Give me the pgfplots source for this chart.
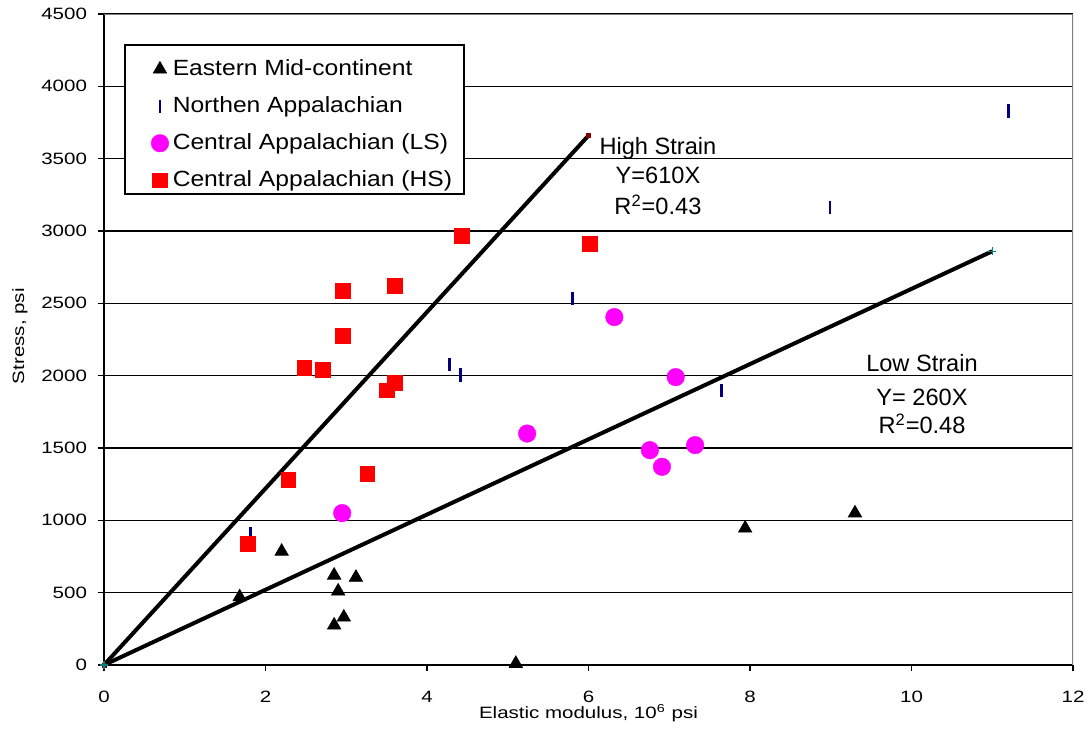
\documentclass[border=0pt]{standalone}
\usepackage{pgfplots}
\pgfplotsset{compat=1.18}
\usepackage{fontspec}
\setmainfont{Liberation Sans}
\definecolor{navyA}{RGB}{0,0,128}
\definecolor{magA}{RGB}{255,0,255}
\definecolor{redA}{RGB}{255,0,0}
\definecolor{darkredA}{RGB}{128,0,0}
\definecolor{tealA}{RGB}{0,128,128}
\definecolor{borderA}{RGB}{128,128,128}
% the source renders its axis text wider than Arial
\newcommand{\wide}[1]{\scalebox{1.25}[1]{#1}}
\newcommand{\legtext}[1]{\scalebox{1.12}[1]{#1}}

\begin{document}
\begin{tikzpicture}
\useasboundingbox (-52pt,-37.5pt) rectangle (492pt,332.5pt);
\begin{axis}[
  scale only axis,
  width=484.5pt, height=325.5pt,
  xmin=0, xmax=12, ymin=0, ymax=4500,
  xtick={0,2,...,12}, ytick={0,500,...,4500},
  axis x line*=bottom, axis y line*=left,
  axis line style={-, black, line width=1pt},
  tick align=outside, major tick length=3pt,
  tick style={black, line width=0.8pt},
  xtick pos=bottom, ytick pos=left,
  ymajorgrids=true,
  grid style={black, line width=0.8pt},
  scaled y ticks=false,
  /pgf/number format/1000 sep={},
  /pgf/number format/assume math mode=true,
  tick label style={font=\fontsize{8.2}{10}\selectfont},
  xticklabel={\wide{\pgfmathprintnumber{\tick}}},
  yticklabel={\wide{\pgfmathprintnumber{\tick}}},
  xticklabel style={yshift=-6.5pt},
  yticklabel style={xshift=-2pt},
  xlabel={\wide{Elastic modulus, 10\textsuperscript{6} psi}},
  ylabel={\wide{Stress, psi}},
  label style={font=\fontsize{8.2}{10}\selectfont},
  xlabel style={at={(axis description cs:0.5,0)}, anchor=center, yshift=-24pt},
  ylabel style={at={(axis description cs:-0.0867,0.505)}, anchor=center},
  legend cell align=left,
  legend image code/.code={\path (-13pt,-2.6pt) (0pt,-2.6pt); \draw[#1] plot coordinates {(0cm,-2.6pt)};},
  legend style={at={(0.0206,0.954)}, anchor=north west, draw=black,
    line width=1pt, fill=white, font=\fontsize{11}{13}\selectfont,
    row sep=2.6pt, inner xsep=4pt, inner ysep=1.6pt,
    nodes={inner ysep=2pt, text height=11.9pt, text depth=0pt}},
]
% Eastern Mid-continent
\addplot[only marks, mark=triangle*, mark size=3.8pt, black, mark options={line width=0.4pt}] coordinates {
  (1.68,470) (2.20,785) (2.85,620) (3.12,605) (2.90,510) (2.85,275)
  (2.97,330) (5.10,10) (7.94,945) (9.30,1050)
};
\addlegendentry{\legtext{Eastern Mid-continent}}
% Northen Appalachian
\addplot[only marks, mark=|, mark size=3.3pt, navyA, mark options={line width=1.4pt}] coordinates {
  (1.81,905) (4.28,2075) (4.41,2005) (7.65,1895) (5.80,2535)
  (8.99,3165) (11.20,3830)
};
\addlegendentry{\legtext{Northen Appalachian}}
% Central Appalachian (LS)
\addplot[only marks, mark=*, mark size=4.4pt, magA, mark options={line width=0.2pt}] coordinates {
  (6.32,2405) (7.08,1990) (5.24,1600) (6.76,1485) (6.91,1370)
  (7.32,1520) (2.95,1050)
};
\addlegendentry{\legtext{Central Appalachian (LS)}}
% Central Appalachian (HS)
\addplot[only marks, mark=square*, mark size=3.7pt, redA, mark options={line width=0.2pt}] coordinates {
  (4.43,2970) (6.01,2910) (2.96,2585) (3.60,2620) (2.96,2275)
  (2.48,2055) (2.71,2040) (3.60,1950) (3.50,1900) (2.28,1280)
  (3.26,1320) (1.78,840)
};
\addlegendentry{\legtext{Central Appalachian (HS)}}
% trend lines
\addplot[forget plot, black, line width=2pt, mark=square*, mark size=1pt,
  mark options={darkredA, line width=0.2pt}] coordinates {(0,0) (6,3660)};
\addplot[forget plot, black, line width=2pt, mark=+, mark size=2pt,
  mark options={tealA, line width=0.6pt}] coordinates {(0,0) (11,2860)};
\draw[borderA, line width=0.8pt] (rel axis cs:0,1) -- (rel axis cs:1,1) -- (rel axis cs:1,0);
\node[font=\fontsize{11.8}{13}\selectfont] at (axis cs:6.86,3574) {High Strain};
\node[font=\fontsize{11.8}{13}\selectfont] at (axis cs:6.86,3387) {Y=610X};
\node[font=\fontsize{11.8}{13}\selectfont] at (axis cs:6.86,3180) {R\textsuperscript{2}=0.43};
\node[font=\fontsize{11.8}{13}\selectfont] at (axis cs:10.13,2087) {Low Strain};
\node[font=\fontsize{11.8}{13}\selectfont] at (axis cs:10.13,1852) {Y= 260X};
\node[font=\fontsize{11.8}{13}\selectfont] at (axis cs:10.13,1666) {R\textsuperscript{2}=0.48};
\end{axis}
\end{tikzpicture}
\end{document}
